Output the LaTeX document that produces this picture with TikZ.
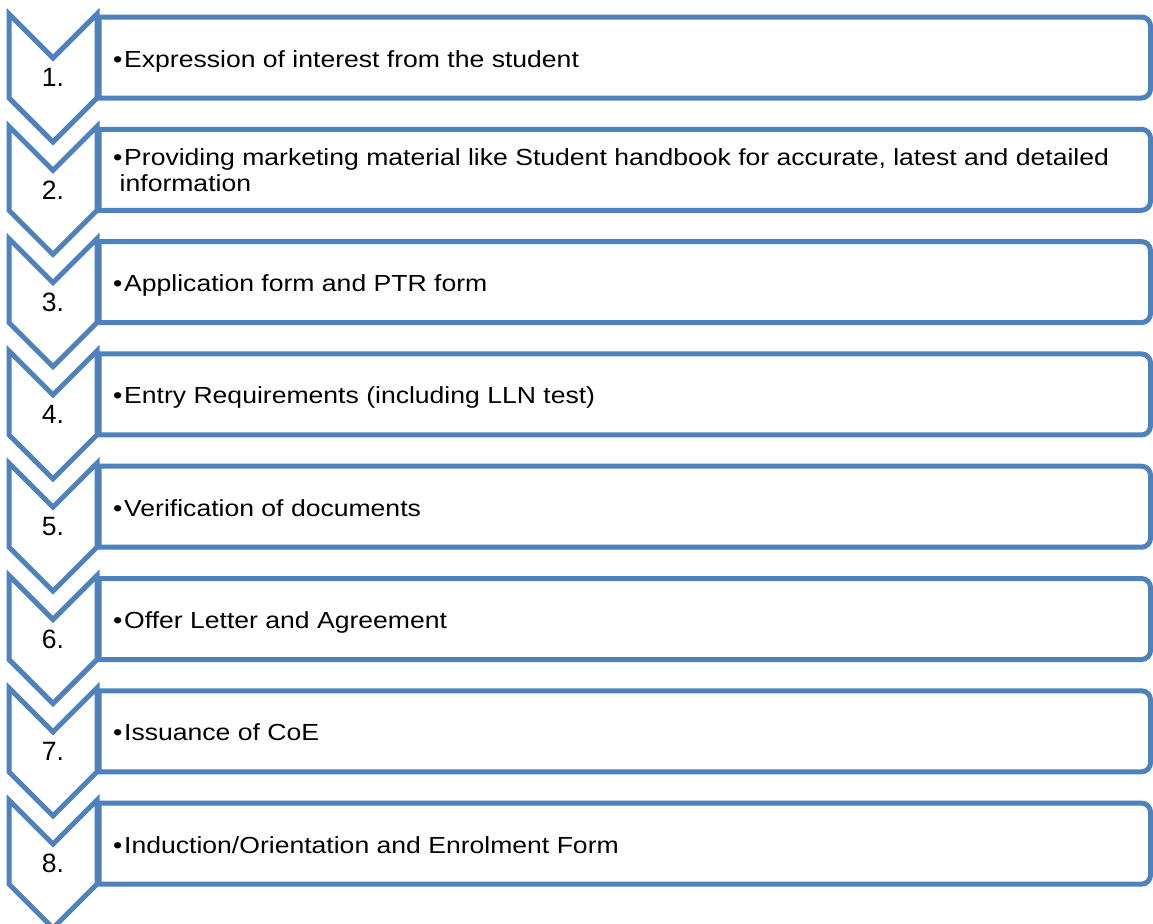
\documentclass[tikz,border=0pt]{standalone}
\usepackage{fontspec}
\setmainfont{Liberation Sans}
\newfontfamily\itemfont[FakeStretch=1.14]{Liberation Sans}
\definecolor{accent}{HTML}{4F81BD}
\begin{document}
\begin{tikzpicture}[x=1bp,y=-1bp,
  shapeline/.style={draw=accent,fill=white,line width=5bp,line join=miter},
  itemtext/.style={anchor=base west,inner sep=0pt,align=left,font=\itemfont\fontsize{23.3bp}{26.7bp}\selectfont},
  numtext/.style={anchor=center,inner sep=0pt,font=\fontsize{26.5bp}{30bp}\selectfont}]
\fill[white] (0,0) rectangle (1153,924);
\useasboundingbox (0,0) rectangle (1153,924);
\foreach \k in {0,...,7}{
  \pgfmathsetmacro{\t}{17+\k*112.3}
  \pgfmathsetmacro{\b}{98+\k*112.3}
  \pgfmathsetmacro{\ct}{14+\k*112.3}
  \path[shapeline] (99,\t) -- (1141.5,\t) .. controls (1146.5,\t) and (1150.5,\t+4) .. (1150.5,\t+9)
     -- (1150.5,\b-9) .. controls (1150.5,\b-4) and (1146.5,\b) .. (1141.5,\b) -- (99,\b) -- cycle;
  \path[shapeline] (9,\ct) -- (53,\ct+44) -- (97,\ct) -- (97,\ct+84) -- (53,\ct+128) -- (9,\ct+84) -- cycle;
  \pgfmathtruncatemacro{\n}{\k+1}
  \node[numtext] (num\n) at (53,{77.5+\k*112.3}) {\n.};
}
\newcommand{\bul}{\makebox[11bp][l]{•}}
\node[itemtext] (t1) at (113,67) {\bul Expression of interest from the student};
\node[itemtext] (t2) at (113,191.7) {\bul Providing marketing material like Student handbook for accurate, latest and detailed\\\hspace*{6.5bp}information};
\node[itemtext] (t3) at (113,{67+2*112.3}) {\bul Application form and PTR form};
\node[itemtext] (t4) at (113,{67+3*112.3}) {\bul Entry Requirements (including LLN test)};
\node[itemtext] (t5) at (113,{67+4*112.3}) {\bul Verification of documents};
\node[itemtext] (t6) at (113,{67+5*112.3}) {\bul Offer Letter and Agreement};
\node[itemtext] (t7) at (113,{67+6*112.3}) {\bul Issuance of CoE};
\node[itemtext] (t8) at (113,{67+7*112.3}) {\bul Induction/Orientation and Enrolment Form};
\end{tikzpicture}
\end{document}
